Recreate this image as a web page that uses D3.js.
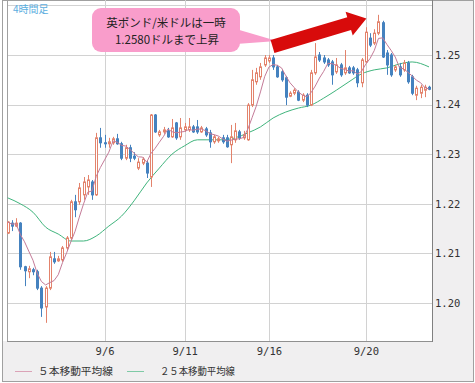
<!DOCTYPE html>
<html>
<head>
<meta charset="utf-8">
<script src="https://cdn.jsdelivr.net/npm/d3@7"></script>
<style>
  body { margin: 0; background: #fff; }
  svg { display: block; }
</style>
</head>
<body>
<svg id="chart" width="475" height="383"></svg>
<script>
// GBP/USD 4h candles
const opens = [1.2141,1.2161,1.2155,1.2161,1.2073,1.2063,1.2067,1.2063,1.2030,1.1992,
  1.2030,1.2089,1.2085,1.2087,1.2111,1.2131,1.2204,1.2204,1.2218,1.2234,
  1.2244,1.2218,1.2333,1.2323,1.2321,1.2323,1.2331,1.2321,1.2292,1.2313,
  1.2296,1.2272,1.2282,1.2282,1.2254,1.2379,1.2339,1.2345,1.2347,1.2335,
  1.2363,1.2335,1.2349,1.2349,1.2355,1.2355,1.2345,1.2351,1.2343,1.2325,
  1.2327,1.2333,1.2333,1.2319,1.2329,1.2345,1.2333,1.2329,1.2399,1.2446,
  1.2456,1.2480,1.2488,1.2494,1.2476,1.2466,1.2454,1.2417,1.2423,1.2425,
  1.2409,1.2419,1.2399,1.2464,1.2500,1.2494,1.2490,1.2486,1.2466,1.2480,
  1.2464,1.2474,1.2474,1.2470,1.2444,1.2486,1.2534,1.2524,1.2544,1.2565,
  1.2504,1.2500,1.2470,1.2476,1.2470,1.2484,1.2456,1.2419,1.2423,1.2429,1.2435];
const highs = [1.2165,1.2167,1.2171,1.2163,1.2075,1.2075,1.2071,1.2067,1.2034,1.2034,
  1.2103,1.2103,1.2095,1.2115,1.2135,1.2208,1.2218,1.2242,1.2254,1.2258,
  1.2248,1.2343,1.2353,1.2339,1.2333,1.2335,1.2341,1.2325,1.2319,1.2319,
  1.2304,1.2292,1.2294,1.2288,1.2381,1.2381,1.2349,1.2355,1.2353,1.2371,
  1.2365,1.2373,1.2363,1.2373,1.2359,1.2369,1.2357,1.2355,1.2349,1.2339,
  1.2335,1.2339,1.2339,1.2359,1.2363,1.2349,1.2347,1.2403,1.2470,1.2474,
  1.2484,1.2500,1.2500,1.2500,1.2480,1.2470,1.2458,1.2427,1.2433,1.2429,
  1.2423,1.2423,1.2470,1.2524,1.2506,1.2500,1.2494,1.2490,1.2494,1.2484,
  1.2510,1.2478,1.2478,1.2474,1.2494,1.2556,1.2544,1.2552,1.2581,1.2569,
  1.2510,1.2504,1.2480,1.2484,1.2490,1.2488,1.2460,1.2438,1.2440,1.2440,1.2438];
const lows = [1.2139,1.2145,1.2153,1.2067,1.2034,1.2050,1.2056,1.2026,1.1972,1.1960,
  1.2026,1.2079,1.2083,1.2083,1.2107,1.2127,1.2173,1.2198,1.2208,1.2218,
  1.2208,1.2216,1.2313,1.2313,1.2313,1.2319,1.2319,1.2288,1.2288,1.2284,
  1.2288,1.2268,1.2278,1.2252,1.2234,1.2343,1.2335,1.2341,1.2333,1.2333,
  1.2329,1.2329,1.2345,1.2345,1.2343,1.2341,1.2343,1.2335,1.2313,1.2321,
  1.2323,1.2321,1.2313,1.2282,1.2323,1.2329,1.2329,1.2327,1.2395,1.2440,
  1.2450,1.2476,1.2484,1.2470,1.2454,1.2446,1.2399,1.2415,1.2419,1.2407,
  1.2405,1.2395,1.2397,1.2460,1.2486,1.2482,1.2476,1.2440,1.2462,1.2456,
  1.2460,1.2462,1.2460,1.2435,1.2435,1.2484,1.2516,1.2520,1.2540,1.2494,
  1.2460,1.2456,1.2466,1.2456,1.2466,1.2442,1.2419,1.2409,1.2413,1.2415,1.2429];
const closes = [1.2163,1.2155,1.2161,1.2073,1.2065,1.2069,1.2063,1.2030,1.1990,1.2030,
  1.2093,1.2083,1.2089,1.2111,1.2131,1.2204,1.2188,1.2232,1.2244,1.2248,
  1.2218,1.2333,1.2323,1.2321,1.2325,1.2331,1.2321,1.2292,1.2313,1.2292,
  1.2292,1.2284,1.2290,1.2262,1.2379,1.2345,1.2345,1.2349,1.2335,1.2353,
  1.2333,1.2353,1.2355,1.2355,1.2345,1.2345,1.2353,1.2339,1.2325,1.2335,
  1.2331,1.2325,1.2315,1.2335,1.2347,1.2333,1.2339,1.2399,1.2450,1.2464,
  1.2476,1.2494,1.2494,1.2476,1.2456,1.2450,1.2415,1.2423,1.2429,1.2409,
  1.2419,1.2399,1.2464,1.2496,1.2490,1.2486,1.2480,1.2460,1.2480,1.2460,
  1.2474,1.2464,1.2464,1.2444,1.2490,1.2546,1.2520,1.2544,1.2567,1.2496,
  1.2480,1.2460,1.2476,1.2460,1.2484,1.2446,1.2423,1.2433,1.2435,1.2435,1.2431];

// 25-bar moving average, read at every third bar
const ma25Idx = [0,3,6,9,12,15,18,21,24,27,30,33,36,39,42,45,48,51,54,57,60,63,66,69,72,75,78,81,84,87,90,93,96,100];
const ma25Val = [1.2212,1.2200,1.2183,1.2153,1.2139,1.2125,1.2125,1.2135,1.2155,1.2175,
  1.2206,1.2242,1.2272,1.2300,1.2317,1.2329,1.2329,1.2329,1.2333,1.2343,
  1.2355,1.2373,1.2385,1.2393,1.2399,1.2413,1.2429,1.2446,1.2462,1.2470,
  1.2474,1.2482,1.2486,1.2476];

const yTicks = [1.20, 1.21, 1.22, 1.23, 1.24, 1.25];
const yGridVals = [1.20, 1.21, 1.22, 1.23, 1.24, 1.25, 1.26];
const xTickIdx = [23, 42, 62, 85];
const xTickLabels = ["9/6", "9/11", "9/16", "9/20"];

const upColor = "#e3836c";
const downColor = "#4582bf";
const ma5Color = "#c47b98";
const ma25Color = "#3fb47c";

const plot = { left: 7, right: 432, top: 0, bottom: 341 };
const svg = d3.select("#chart");

const x = d3.scaleLinear().domain([0, closes.length - 1]).range([7.7, 429]);
const y = d3.scaleLinear().domain([1.20, 1.25]).range([303, 55]);

// frame and panels
svg.append("rect").attr("x", 2.5).attr("y", 0.5).attr("width", 471).attr("height", 381)
  .attr("fill", "#f0eff0").attr("stroke", "#a0a0a0");
svg.append("rect").attr("x", 3).attr("y", 1).attr("width", plot.right - 3).attr("height", plot.bottom - 1)
  .attr("fill", "#fff");

svg.append("defs").append("clipPath").attr("id", "clip")
  .append("rect").attr("x", plot.left).attr("y", 0)
  .attr("width", plot.right - plot.left).attr("height", plot.bottom);

// grid
const grid = svg.append("g").attr("stroke", "#d2d2d2").attr("stroke-width", 1);
grid.selectAll(".hg").data(yGridVals).enter().append("line")
  .attr("x1", plot.left).attr("x2", plot.right)
  .attr("y1", (d) => Math.round(y(d)) + 0.5).attr("y2", (d) => Math.round(y(d)) + 0.5);
grid.selectAll(".vg").data(xTickIdx).enter().append("line")
  .attr("x1", (d) => Math.round(x(d)) + 0.5).attr("x2", (d) => Math.round(x(d)) + 0.5)
  .attr("y1", 0).attr("y2", plot.bottom);

// borders
svg.append("line").attr("x1", plot.left + 0.5).attr("x2", plot.left + 0.5)
  .attr("y1", 0).attr("y2", plot.bottom).attr("stroke", "#a0a0a0");
svg.append("line").attr("x1", plot.left).attr("x2", plot.right)
  .attr("y1", plot.bottom + 0.5).attr("y2", plot.bottom + 0.5).attr("stroke", "#909090");
svg.append("line").attr("x1", plot.right + 0.5).attr("x2", plot.right + 0.5)
  .attr("y1", 0).attr("y2", plot.bottom + 1).attr("stroke", "#808080");

const marks = svg.append("g").attr("clip-path", "url(#clip)");

// 25 MA
marks.append("path")
  .datum(ma25Idx.map((d, i) => [d, ma25Val[i]]))
  .attr("fill", "none").attr("stroke", ma25Color).attr("stroke-width", 1)
  .attr("d", d3.line().x((d) => x(d[0])).y((d) => y(d[1])).curve(d3.curveMonotoneX));

// candles
const candles = marks.selectAll(".candle").data(closes).enter().append("g");
candles.append("line")
  .attr("x1", (d, i) => Math.round(x(i)) + 0.5).attr("x2", (d, i) => Math.round(x(i)) + 0.5)
  .attr("y1", (d, i) => y(highs[i])).attr("y2", (d, i) => y(lows[i]))
  .attr("stroke", (d, i) => (d >= opens[i] ? upColor : downColor));
candles.append("rect")
  .attr("x", (d, i) => Math.round(x(i)) - 0.5)
  .attr("width", 2)
  .attr("y", (d, i) => y(Math.max(d, opens[i])))
  .attr("height", (d, i) => Math.max(0.5, Math.abs(y(d) - y(opens[i]))))
  .attr("fill", (d, i) => (d >= opens[i] ? "#fff" : downColor))
  .attr("stroke", (d, i) => (d >= opens[i] ? upColor : downColor));

// 5 MA
const ma5 = closes.map((c, i) => d3.mean(closes.slice(Math.max(0, i - 4), i + 1)));
marks.append("path")
  .datum(ma5)
  .attr("fill", "none").attr("stroke", ma5Color).attr("stroke-width", 1)
  .attr("d", d3.line().x((d, i) => x(i)).y((d) => y(d)));

// axes
const yAxis = svg.append("g").attr("transform", `translate(${plot.right},0)`)
  .call(d3.axisRight(y).tickValues(yTicks).tickFormat(d3.format(".2f")).tickSize(0).tickPadding(3));
const xAxis = svg.append("g").attr("transform", `translate(0,${plot.bottom})`)
  .call(d3.axisBottom(x).tickValues(xTickIdx).tickFormat((d, i) => xTickLabels[i]).tickSize(0).tickPadding(7));
[yAxis, xAxis].forEach((a) => {
  a.select(".domain").remove();
  a.selectAll("text").attr("fill", "#333")
    .style("font-family", "'DejaVu Sans Mono', monospace").style("font-size", "10.5px");
});

// title
svg.append("text").attr("x", 13).attr("y", 13).text("4時間足")
  .attr("fill", "#5aaee0").style("font-family", "'Noto Sans CJK JP'").style("font-size", "10px");

// legend
const legend = [
  { label: "５本移動平均線", color: "#dba3b7", x1: 15, tx: 38 },
  { label: "２５本移動平均線", color: "#7fcaa6", x1: 127, tx: 160 },
];
legend.forEach((l) => {
  svg.append("line").attr("x1", l.x1).attr("x2", l.x1 + 17).attr("y1", 371.5).attr("y2", 371.5)
    .attr("stroke", l.color);
  svg.append("text").attr("x", l.tx).attr("y", 375).text(l.label)
    .attr("textLength", 75).attr("lengthAdjust", "spacingAndGlyphs")
    .attr("fill", "#333").style("font-family", "'Noto Sans CJK JP'").style("font-size", "10.5px");
});

// callout
svg.append("polygon").attr("points", "236,29 277,41 236,44").attr("fill", "#f99dcb");
svg.append("rect").attr("x", 92).attr("y", 8).attr("width", 148).attr("height", 44).attr("rx", 9)
  .attr("fill", "#f99dcb");
const note = svg.append("text").attr("text-anchor", "middle").attr("fill", "#222")
  .style("font-family", "'Noto Sans CJK JP'").style("font-size", "11.5px");
note.append("tspan").attr("x", 166).attr("y", 27).text("英ポンド/米ドルは一時");
note.append("tspan").attr("x", 167).attr("y", 44).text("1.2580ドルまで上昇");

// red arrow
const L = 98, hw = 6.7, hh = 12.5, hl = 18;
svg.append("polygon")
  .attr("transform", "translate(272.5,46.5) rotate(-16.6)")
  .attr("points", [[0, -hw], [L - hl, -hw], [L - hl, -hh], [L, 0], [L - hl, hh], [L - hl, hw], [0, hw]].join(" "))
  .attr("fill", "#d80b0b");
</script>
</body>
</html>
